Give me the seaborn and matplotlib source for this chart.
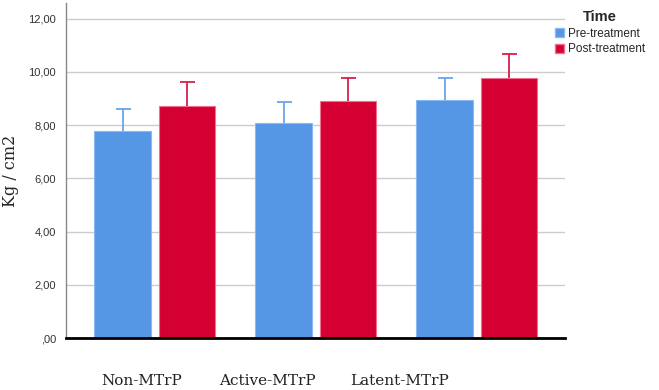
import numpy as np
import pandas as pd
import seaborn as sns
import matplotlib.pyplot as plt
from matplotlib.patches import Patch

groups = ['Non-MTrP', 'Active-MTrP', 'Latent-MTrP']
times = ['Pre-treatment', 'Post-treatment']
pre_mean = [7.76, 8.09, 8.96]
post_mean = [8.71, 8.89, 9.78]
pre_err = [0.83, 0.78, 0.82]
post_err = [0.90, 0.89, 0.88]

df = pd.DataFrame({
    'Group': groups * 2,
    'Time': [times[0]] * 3 + [times[1]] * 3,
    'Value': pre_mean + post_mean,
    'Err': pre_err + post_err,
})

colors = {'Pre-treatment': '#5596e5', 'Post-treatment': '#d50032'}
edges = {'Pre-treatment': '#8ab8f0', 'Post-treatment': '#f07090'}
errc = {'Pre-treatment': '#6aa5ec', 'Post-treatment': '#d5204a'}

sns.set_style('white')
fig = plt.figure(figsize=(6.59, 3.9), dpi=100)
ax = fig.add_axes([0.100, 0.133, 0.757, 0.859])

ax.yaxis.grid(True, color='#cccccc', linewidth=1.0)
ax.set_axisbelow(True)

sns.barplot(data=df, x='Group', y='Value', hue='Time', order=groups,
            hue_order=times, palette=colors, width=0.8, gap=0.12,
            saturation=1, errorbar=None, legend=False, ax=ax, zorder=2)

# colour edges and add upper-only error bars
for container, t in zip(ax.containers, times):
    sub = df[df['Time'] == t].set_index('Group').loc[groups]
    for bar, (v, e) in zip(container, zip(sub['Value'], sub['Err'])):
        bar.set_edgecolor(edges[t])
        bar.set_linewidth(0.8)
        xc = bar.get_x() + bar.get_width() / 2
        ax.vlines(xc, v, v + e, color=errc[t], linewidth=1.3, zorder=3)
        ax.plot([xc], [v + e], marker='_', markersize=10.8, mew=1.3,
                color=errc[t], zorder=3)

ax.set_ylim(0, 12.58)
ax.set_xlim(-0.553, 2.547)
yt = np.arange(0, 13, 2)
ax.set_yticks(yt)
ax.set_yticklabels([f'{v:.2f}'.replace('.', ',').lstrip('0') if v == 0
                    else f'{v:.2f}'.replace('.', ',') for v in yt],
                   fontsize=8, family='Liberation Sans', color='#333333')
ax.tick_params(axis='y', length=0, pad=7)

label_pos = [-0.081, 0.702, 1.522]
ax.set_xticks(label_pos)
ax.set_xticklabels(groups, fontsize=11, family='DejaVu Serif', color='#222222')
ax.tick_params(axis='x', length=0, pad=26)
ax.set_xlabel('')
ax.set_ylabel('Kg / cm2', fontsize=11.5, family='DejaVu Serif', labelpad=7)

for s in ['top', 'right']:
    ax.spines[s].set_visible(False)
ax.spines['left'].set_color('#888888')
ax.spines['left'].set_linewidth(1.0)
ax.spines['bottom'].set_color('black')
ax.spines['bottom'].set_linewidth(2.0)
ax.spines['bottom'].set_zorder(5)

handles = [Patch(facecolor=colors[t], edgecolor=edges[t], label=t) for t in times]
leg = fig.legend(handles=handles, title='Time', loc='upper left',
                 bbox_to_anchor=(0.829, 0.995), frameon=False,
                 prop={'family': 'Liberation Sans', 'size': 8.5},
                 handlelength=0.8, handleheight=0.8, handletextpad=0.3,
                 labelspacing=0.3, borderpad=0.2)
leg.get_title().set_fontweight('bold')
leg.get_title().set_fontsize(10.5)
leg.get_title().set_family('Liberation Sans')

fig.savefig('out.png', dpi=100)
